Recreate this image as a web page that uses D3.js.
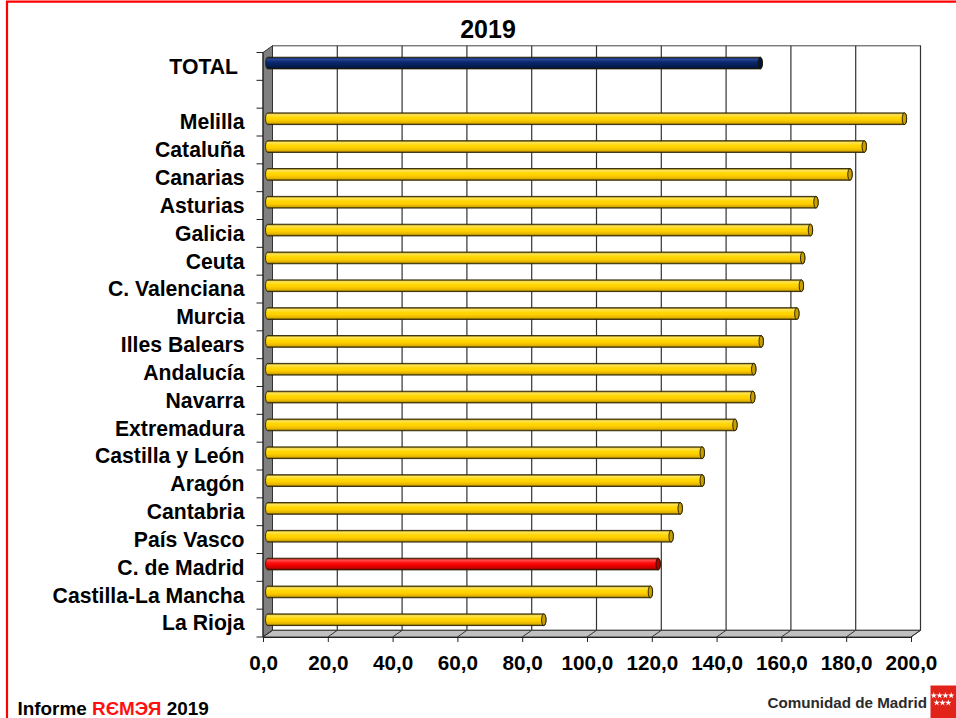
<!DOCTYPE html>
<html>
<head>
<meta charset="utf-8">
<script src="https://cdn.jsdelivr.net/npm/d3@7"></script>
<style>
  html, body { margin: 0; padding: 0; background: #fff; }
  svg { display: block; font-family: "Liberation Sans", Arial, sans-serif; }
</style>
</head>
<body>
<svg id="chart" width="956" height="718"></svg>
<script>
// ---- data ----
const title = "2019";
const categories = ["TOTAL", "", "Melilla", "Cataluña", "Canarias", "Asturias", "Galicia", "Ceuta",
  "C. Valenciana", "Murcia", "Illes Balears", "Andalucía", "Navarra", "Extremadura",
  "Castilla y León", "Aragón", "Cantabria", "País Vasco", "C. de Madrid",
  "Castilla-La Mancha", "La Rioja"];
const values = [152.0, null, 196.5, 184.1, 179.7, 169.2, 167.5, 165.1, 164.7, 163.3, 152.3,
  150.0, 149.7, 144.2, 134.1, 134.1, 127.3, 124.5, 120.5, 118.1, 85.2];
const barKinds = ["total", null, "region", "region", "region", "region", "region", "region",
  "region", "region", "region", "region", "region", "region", "region", "region", "region",
  "region", "madrid", "region", "region"];
const xTicks = [0, 20, 40, 60, 80, 100, 120, 140, 160, 180, 200];
const footerParts = ["Informe ", "RЄMЭЯ", " 2019"];
const brandText = "Comunidad de Madrid";

// ---- layout ----
const svg = d3.select("#chart");
const front = { left: 263, right: 911, top: 52.5, bottom: 637 };
const depth = { dx: 9.5, dy: -6.7 };
const x = d3.scaleLinear().domain([0, 200]).range([front.left, front.right]);
const y = d3.scaleBand().domain(d3.range(categories.length)).range([front.top, front.bottom]).padding(0);
const xBar = v => x(v) + depth.dx / 2;
const barH = 11.7;

const locale = d3.formatLocale({ decimal: ",", thousands: ".", grouping: [3], currency: ["", "€"] });
const fmt = locale.format(".1f");

// gradients
const defs = svg.append("defs");
const palettes = {
  region: ["#6b5600", "#ffe45a", "#ffd700", "#ffcf00", "#e2b200", "#5a4700"],
  madrid: ["#700000", "#ff5050", "#ff1010", "#f00000", "#c80000", "#500000"],
  total:  ["#000a30", "#2a4a98", "#0c2a72", "#072260", "#041a4c", "#000820"]
};
const capFill = { region: "#c9a000", madrid: "#b00000", total: "#001440" };
Object.entries(palettes).forEach(([k, c]) => {
  const g = defs.append("linearGradient").attr("id", "g-" + k)
    .attr("x1", 0).attr("y1", 0).attr("x2", 0).attr("y2", 1);
  [0, 0.15, 0.4, 0.6, 0.85, 1].forEach((o, i) =>
    g.append("stop").attr("offset", o).attr("stop-color", c[i]));
});

// red frame
svg.append("path").attr("d", "M7,720 V1.7 H958")
  .attr("fill", "none").attr("stroke", "#ff0000").attr("stroke-width", 2.2);

// title
svg.append("text").attr("x", 488).attr("y", 37.5).attr("text-anchor", "middle")
  .attr("font-size", 25).attr("font-weight", "bold").attr("fill", "#000").text(title);

// back wall
const bx0 = front.left + depth.dx, bx1 = front.right + depth.dx;
const by0 = front.top + depth.dy, by1 = front.bottom + depth.dy;
svg.append("rect").attr("x", bx0).attr("y", by0).attr("width", bx1 - bx0).attr("height", by1 - by0)
  .attr("fill", "#fff").attr("stroke", "#444").attr("stroke-width", 1);

// gridlines on back wall
svg.append("g").selectAll("line").data(xTicks.slice(1)).join("line")
  .attr("x1", d => x(d) + depth.dx).attr("x2", d => x(d) + depth.dx)
  .attr("y1", by0).attr("y2", by1)
  .attr("stroke", "#333").attr("stroke-width", 1.2);

// left wall
svg.append("path")
  .attr("d", `M${front.left},${front.top} L${bx0},${by0} L${bx0},${by1} L${front.left},${front.bottom} Z`)
  .attr("fill", "#808080").attr("stroke", "#333").attr("stroke-width", 1);

// floor
svg.append("path")
  .attr("d", `M${front.left},${front.bottom} L${bx0},${by1} L${bx1},${by1} L${front.right},${front.bottom} Z`)
  .attr("fill", "#c0c0c0").attr("stroke", "#333").attr("stroke-width", 1);
svg.append("g").selectAll("line").data(xTicks).join("line")
  .attr("x1", d => x(d)).attr("y1", front.bottom)
  .attr("x2", d => x(d) + depth.dx).attr("y2", by1)
  .attr("stroke", "#333").attr("stroke-width", 1);

// bars
const barData = categories.map((c, i) => ({ c, i, v: values[i], k: barKinds[i] })).filter(d => d.v != null);
const bars = svg.append("g").selectAll("g").data(barData).join("g");
bars.each(function (d) {
  const g = d3.select(this);
  const cy = y(d.i) + y.bandwidth() / 2 + depth.dy / 2;
  const x0 = xBar(0), x1 = xBar(d.v);
  const t = cy - barH / 2, b = cy + barH / 2, rx = 2.2, ry = barH / 2;
  g.append("path")
    .attr("d", `M${x0},${t} L${x1},${t} A${rx},${ry} 0 0 1 ${x1},${b} L${x0},${b} A${rx},${ry} 0 0 1 ${x0},${t} Z`)
    .attr("fill", `url(#g-${d.k})`).attr("stroke", "#2a2200").attr("stroke-width", 0.9);
  g.append("ellipse").attr("cx", x1).attr("cy", cy).attr("rx", rx).attr("ry", ry)
    .attr("fill", capFill[d.k]).attr("stroke", "#1e1800").attr("stroke-width", 0.9);
});

// left axis line and ticks
svg.append("line").attr("x1", front.left).attr("x2", front.left)
  .attr("y1", front.top).attr("y2", front.bottom).attr("stroke", "#222").attr("stroke-width", 1);
const bounds = d3.range(categories.length + 1).map(i => front.top + i * y.bandwidth());
svg.append("g").selectAll("line").data(bounds).join("line")
  .attr("x1", front.left - 6.5).attr("x2", front.left).attr("y1", d => d).attr("y2", d => d)
  .attr("stroke", "#222").attr("stroke-width", 1);

// category labels
svg.append("g").selectAll("text").data(categories).join("text")
  .attr("x", (d, i) => i === 0 ? 238 : 244.5)
  .attr("y", (d, i) => y(i) + y.bandwidth() / 2 + 7.3)
  .attr("text-anchor", "end").attr("font-size", 21.2).attr("font-weight", "bold").attr("fill", "#000")
  .text(d => d);

// bottom axis
const xAxis = d3.axisBottom(x).tickValues(xTicks).tickFormat(fmt).tickSize(5).tickPadding(13);
const ax = svg.append("g").attr("transform", `translate(0,${front.bottom})`).call(xAxis);
ax.select(".domain").attr("stroke", "#222");
ax.selectAll(".tick line").attr("stroke", "#222");
ax.selectAll(".tick text").attr("font-size", 20.7).attr("font-weight", "bold").attr("fill", "#000")
  .attr("font-family", "Liberation Sans, Arial, sans-serif");

// footer
const ft = svg.append("text").attr("x", 17.5).attr("y", 715).attr("font-size", 18.9).attr("font-weight", "bold");
ft.append("tspan").attr("fill", "#000").text(footerParts[0]);
ft.append("tspan").attr("fill", "#ff1010").text(footerParts[1]);
ft.append("tspan").attr("fill", "#000").text(footerParts[2]);

svg.append("text").attr("x", 927).attr("y", 707.5).attr("text-anchor", "end")
  .attr("font-size", 15.2).attr("font-weight", "bold").attr("fill", "#2b2b2b").text(brandText);

// logo
svg.append("rect").attr("x", 930.5).attr("y", 685.5).attr("width", 30).attr("height", 34).attr("fill", "#e2231a");
const star = d3.symbol().type(d3.symbolStar).size(13);
const starPos = [[933.8, 695.5], [939.6, 695.5], [945.4, 695.5], [951.2, 695.5],
                 [936.7, 702.8], [942.5, 702.8], [948.3, 702.8]];
svg.append("g").selectAll("path").data(starPos).join("path")
  .attr("transform", d => `translate(${d[0]},${d[1]})`).attr("d", star).attr("fill", "#fff");
</script>
</body>
</html>
